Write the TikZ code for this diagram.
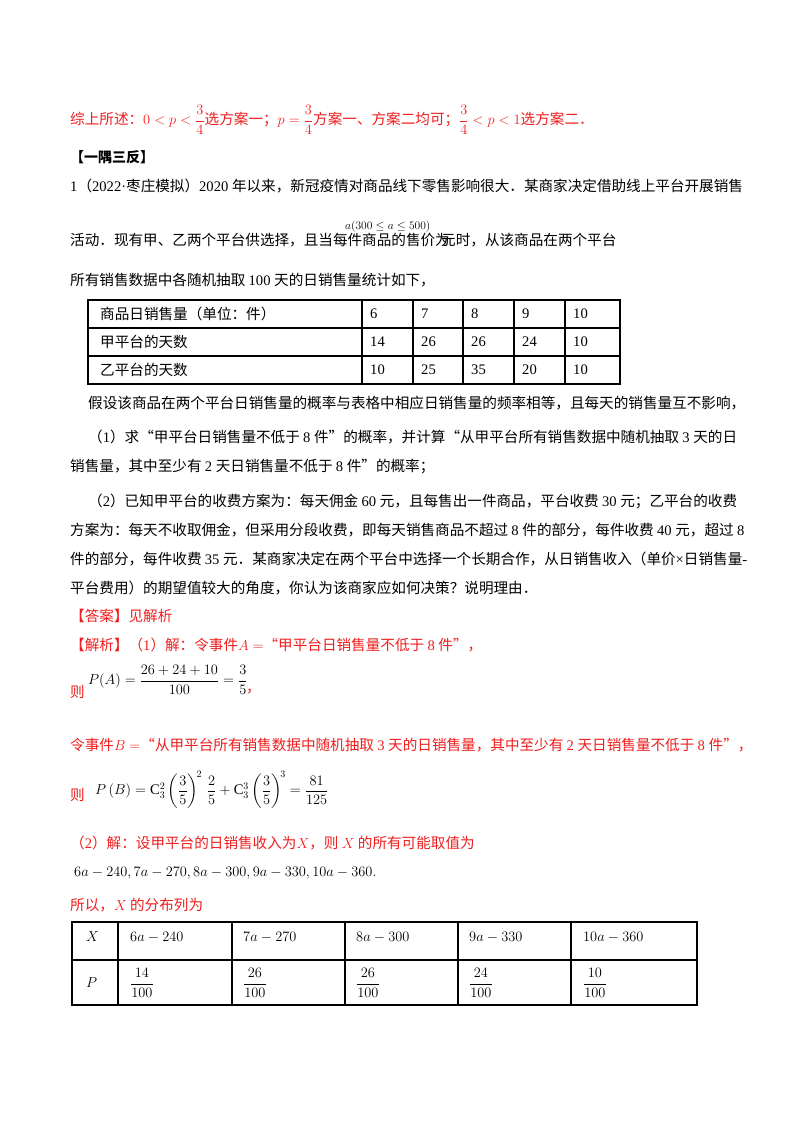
\documentclass[tikz,border=0pt]{standalone}
\usepackage{amsmath}
\usepackage{graphicx}
\usepackage{fontspec}
\setmainfont{Liberation Serif}
\newfontfamily\cjk{Noto Sans CJK SC}
\XeTeXinterchartokenstate=1
\newXeTeXintercharclass\cjkclass
\count255="3000
\loop\XeTeXcharclass\count255=\cjkclass\ifnum\count255<"303F\advance\count255 by 1\repeat
\count255="4E00
\loop\XeTeXcharclass\count255=\cjkclass\ifnum\count255<"9FFF\advance\count255 by 1\repeat
\count255="FF00
\loop\XeTeXcharclass\count255=\cjkclass\ifnum\count255<"FFEF\advance\count255 by 1\repeat
\XeTeXcharclass"201C=\cjkclass
\XeTeXcharclass"201D=\cjkclass
\XeTeXinterchartoks 0 \cjkclass={\cjk}
\XeTeXinterchartoks 4095 \cjkclass={\cjk}
\XeTeXinterchartoks \cjkclass 0={\rmfamily}
\XeTeXinterchartoks 4095 0={\rmfamily}
\definecolor{rd}{RGB}{240,30,30}
\tikzset{t/.style={anchor=west,inner sep=0pt,font=\fontsize{14.6}{17}\selectfont},
 r/.style={t,text=rd}, tl/.style={line width=1.1pt}, tb/.style={line width=1.8pt}}
\begin{document}
\begin{tikzpicture}[x=1pt,y=-1pt]
\useasboundingbox[fill=white] (0,0) rectangle (800,1132);
\node[r] (l1) at (70,120) {综上所述：$0<p<\dfrac34$选方案一；$p=\dfrac34$方案一、方案二均可；$\dfrac34<p<1$选方案二．};
\node[t,font=\fontsize{14}{17}\selectfont\bfseries] (h) at (70,157) {【一隅三反】};
\node[t] (p1) at (70,186) {1（2022·枣庄模拟）2020 年以来，新冠疫情对商品线下零售影响很大．某商家决定借助线上平台开展销售};
\node[t] (p2) at (70,240) {活动．现有甲、乙两个平台供选择，且当每件商品的售价为};
\node[t] (p2m) at (345,227) {\scalebox{0.8}{$a(300\le a\le500)$}};
\node[t] (p2b) at (441,240) {元时，从该商品在两个平台};
\node[t] (p3) at (70,280) {所有销售数据中各随机抽取 100 天的日销售量统计如下，};
% table 1
\draw[tb] (88,300) rectangle (620,384);
\foreach \y in {328,356} \draw[tl] (88,\y) -- (620,\y);
\foreach \x in {362,413,463,514,565} \draw[tl] (\x,300) -- (\x,384);
\node[t] (c11) at (100,314) {商品日销售量（单位：件）};
\node[t] (c21) at (100,342) {甲平台的天数};
\node[t] (c31) at (100,370) {乙平台的天数};
\foreach \x/\a/\b/\c [count=\i] in {370/6/14/10,421/7/26/25,471/8/26/35,522/9/24/20,573/10/10/10}{
 \node[t] (ra\i) at (\x,314) {\a};
 \node[t] (rb\i) at (\x,342) {\b};
 \node[t] (rc\i) at (\x,370) {\c};}
\node[t] (q0) at (88,403) {假设该商品在两个平台日销售量的概率与表格中相应日销售量的频率相等，且每天的销售量互不影响，};
\node[t] (q1) at (88,437) {（1）求“甲平台日销售量不低于 8 件”的概率，并计算“从甲平台所有销售数据中随机抽取 3 天的日};
\node[t] (q1b) at (70,466) {销售量，其中至少有 2 天日销售量不低于 8 件”的概率；};
\node[t] (q2) at (88,501) {（2）已知甲平台的收费方案为：每天佣金 60 元，且每售出一件商品，平台收费 30 元；乙平台的收费};
\node[t] (q2b) at (70,530) {方案为：每天不收取佣金，但采用分段收费，即每天销售商品不超过 8 件的部分，每件收费 40 元，超过 8};
\node[t] (q2c) at (70,559) {件的部分，每件收费 35 元．某商家决定在两个平台中选择一个长期合作，从日销售收入（单价×日销售量-};
\node[t] (q2d) at (70,588) {平台费用）的期望值较大的角度，你认为该商家应如何决策？说明理由．};
\node[r] (ans) at (70,616) {【答案】见解析};
\node[r] (an1) at (70,645) {【解析】（1）解：令事件$A=$“甲平台日销售量不低于 8 件”，};
\node[r] (ze1) at (70,692) {则};
\node[t] (pa) at (88,680) {$P(A)=\dfrac{26+24+10}{100}=\dfrac35$};
\node[r] (cm1) at (246,692) {，};
\node[r] (an2) at (70,745) {令事件$B=$“从甲平台所有销售数据中随机抽取 3 天的日销售量，其中至少有 2 天日销售量不低于 8 件”，};
\node[r] (ze2) at (70,795) {则};
\node[t] (pb) at (95,790) {$P\left(B\right)=\mathrm{C}_3^2\left(\dfrac35\right)^{\!2}\,\dfrac25+\mathrm{C}_3^3\left(\dfrac35\right)^{\!3}=\dfrac{81}{125}$};
\node[r] (an3) at (70,843) {（2）解：设甲平台的日销售收入为$X$，则 $X$ 的所有可能取值为};
\node[t] (vals) at (74,873) {$6a-240,7a-270,8a-300,9a-330,10a-360.$};
\node[r] (an4) at (70,905) {所以，$X$ 的分布列为};
% table 2
\draw[tb] (72,922) rectangle (697,1005);
\draw[tl] (72,960) -- (697,960);
\foreach \x in {118,232,345,458,571} \draw[tl] (\x,922) -- (\x,1005);
\node[t] (xh) at (86,937) {$X$};
\node[t] (ph) at (86,983) {$P$};
\foreach \x/\v/\p [count=\i] in {130/6a-240/14,243/7a-270/26,356/8a-300/26,469/9a-330/24,583/10a-360/10}{
 \node[t] (xv\i) at (\x,937) {$\v$};
 \node[t] (pv\i) at (\x,983) {$\dfrac{\p}{100}$};}
\end{tikzpicture}
\end{document}
